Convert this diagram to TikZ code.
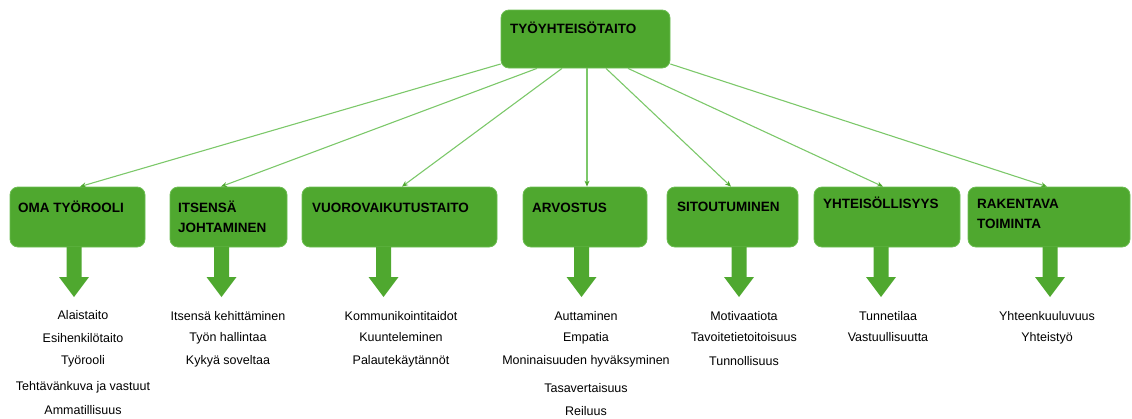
\documentclass[tikz,border=0pt]{standalone}
\usepackage{fontspec}
\setmainfont{Liberation Sans}
\usetikzlibrary{arrows.meta}
\definecolor{boxgreen}{HTML}{4FA82F}
\definecolor{boxedge}{HTML}{6CBD52}
\definecolor{linkgreen}{HTML}{7CC86A}
\definecolor{tipgreen}{HTML}{4FA82F}
\tikzset{
  greenbox/.style={draw=boxedge, line width=0.8pt, fill=boxgreen, rounded corners=8pt,
    minimum height=60pt, inner sep=0pt},
  boxtitle/.style={anchor=base west, inner sep=0pt, align=left,
    font=\fontsize{13.5}{20}\selectfont\bfseries},
  item/.style={anchor=base, inner sep=0pt, font=\fontsize{12.5}{15}\selectfont},
  link/.style={draw=linkgreen, line width=1.1pt,
    -{Stealth[length=6pt, width=5pt, color=tipgreen]}},
  downarrow/.pic={\fill[boxgreen] (-7.5,0) -- (7.5,0) -- (7.5,30) -- (15,30) -- (0,50)
    -- (-15,30) -- (-7.5,30) -- cycle;}
}
\begin{document}
\begin{tikzpicture}[x=1pt, y=-1pt]
\useasboundingbox (0,0) rectangle (1132,418);

% top concept
\node[greenbox, minimum width=169pt, minimum height=58pt] (top) at (585.5,39) {};
\node[boxtitle] (toptxt) at (510,33) {TYÖYHTEISÖTAITO};

% second row
\node[greenbox, minimum width=135pt] (b1) at (77.5,217) {};
\node[greenbox, minimum width=117pt] (b2) at (228.5,217) {};
\node[greenbox, minimum width=195pt] (b3) at (399.5,217) {};
\node[greenbox, minimum width=124pt] (b4) at (585,217) {};
\node[greenbox, minimum width=131pt] (b5) at (732.5,217) {};
\node[greenbox, minimum width=146pt] (b6) at (887,217) {};
\node[greenbox, minimum width=162pt] (b7) at (1049,217) {};

% titles (two-line titles are placed by their last baseline)
\node[boxtitle] (t1) at (18,212) {OMA TYÖROOLI};
\node[boxtitle] (t2) at (178,232) {ITSENSÄ\\JOHTAMINEN};
\node[boxtitle] (t3) at (312,212) {VUOROVAIKUTUSTAITO};
\node[boxtitle] (t4) at (532,212) {ARVOSTUS};
\node[boxtitle] (t5) at (677,211) {SITOUTUMINEN};
\node[boxtitle] (t6) at (823,208) {YHTEISÖLLISYYS};
\node[boxtitle] (t7) at (977,228) {RAKENTAVA\\TOIMINTA};

% connectors from the top concept
\draw[link] ([yshift=-25pt]top.west) -- ([xshift=2.5pt]b1.north);
\draw[link] ([xshift=-48.5pt]top.south) -- ([xshift=-7.5pt]b2.north);
\draw[link] ([xshift=-23.5pt]top.south) -- ([xshift=2.5pt]b3.north);
\draw[link] ([xshift=1.5pt]top.south) -- ([xshift=2pt]b4.north);
\draw[link] ([xshift=20.5pt]top.south) -- ([xshift=-1.5pt]b5.north);
\draw[link] ([xshift=42.5pt]top.south) -- ([xshift=-4pt]b6.north);
\draw[link] ([yshift=-25pt]top.east) -- ([xshift=-2pt]b7.north);

% block arrows under the boxes
\pic at (74,247) {downarrow};
\pic at (221.5,247) {downarrow};
\pic at (383.5,247) {downarrow};
\pic at (581.5,247) {downarrow};
\pic at (739,247) {downarrow};
\pic at (881,247) {downarrow};
\pic at (1050,247) {downarrow};

% item lists
\node[item] (i11) at (83,319) {Alaistaito};
\node[item] (i12) at (83,342) {Esihenkilötaito};
\node[item] (i13) at (83,364) {Työrooli};
\node[item] (i14) at (83,390) {Tehtävänkuva ja vastuut};
\node[item] (i15) at (83,414) {Ammatillisuus};

\node[item] (i21) at (228,320) {Itsensä kehittäminen};
\node[item] (i22) at (228,341) {Työn hallintaa};
\node[item] (i23) at (228,364) {Kykyä soveltaa};

\node[item] (i31) at (401,320) {Kommunikointitaidot};
\node[item] (i32) at (401,341) {Kuunteleminen};
\node[item] (i33) at (401,364) {Palautekäytännöt};

\node[item] (i41) at (586,320) {Auttaminen};
\node[item] (i42) at (586,341) {Empatia};
\node[item] (i43) at (586,364) {Moninaisuuden hyväksyminen};
\node[item] (i44) at (586,392) {Tasavertaisuus};
\node[item] (i45) at (586,415) {Reiluus};

\node[item] (i51) at (744,320) {Motivaatiota};
\node[item] (i52) at (744,341) {Tavoitetietoitoisuus};
\node[item] (i53) at (744,365) {Tunnollisuus};

\node[item] (i61) at (888,320) {Tunnetilaa};
\node[item] (i62) at (888,341) {Vastuullisuutta};

\node[item] (i71) at (1047,320) {Yhteenkuuluvuus};
\node[item] (i72) at (1047,341) {Yhteistyö};
\end{tikzpicture}
\end{document}
